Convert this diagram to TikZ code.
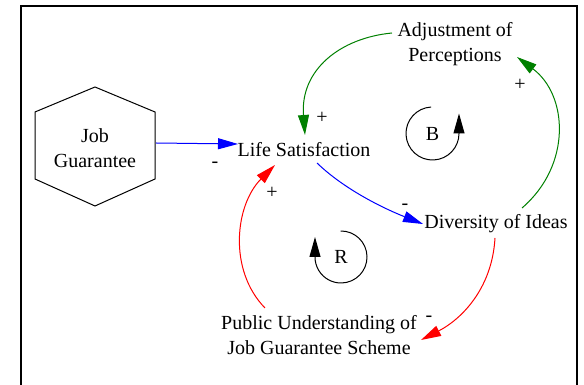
\documentclass[tikz,border=0pt]{standalone}
\usepackage{fontspec}
\setmainfont{Liberation Serif}
\usetikzlibrary{arrows.meta,calc}
\definecolor{lgreen}{RGB}{0,128,0}
\definecolor{lblue}{RGB}{0,0,255}
\definecolor{lred}{RGB}{255,0,0}
\begin{document}
\begin{tikzpicture}[x=1pt,y=1pt,
  every node/.style={font=\rmfamily\fontsize{20}{25.5}\selectfont, inner sep=0pt},
  var/.style={align=center},
  pol/.style={font=\rmfamily\fontsize{20}{20}\selectfont},
  link/.style={line width=1pt, -{Triangle[length=20pt,width=11pt]}},
  loopc/.style={line width=1pt, -{Triangle[length=20pt,width=11pt]}}]
\useasboundingbox (0,0) rectangle (584,385);
\draw[line width=1.7pt] (21,0) -- (21,379) -- (577,379) -- (577,0);
% variables
\node[var,minimum width=120pt,minimum height=119pt] (jg) at (95,237) {Job\\Guarantee};
\draw[line width=1pt] (jg.center) +(0,61) -- +(-60,36) -- +(-60,-31) -- +(0,-58) -- +(60,-31) -- +(60,36) -- cycle;
\node[var] (ls) at (304,235) {Life Satisfaction};
\node[var] (adj) at (455,341) {Adjustment of\\Perceptions};
\node[var] (div) at (496,161) {Diversity of Ideas};
\node[var] (pub) at (319,50) {Public Understanding of\\Job Guarantee Scheme};
% links
\draw[link,lblue] ($(jg.center)+(61,5)$) -- ($(ls.center)+(-66,6)$);
\draw[link,lgreen] ($(adj.center)+(-63,11)$) .. controls +(-52,-5) and +(-5,65) .. ($(ls.center)+(1,15)$);
\draw[link,lgreen] ($(div.center)+(26,16)$) .. controls +(50,43) and +(51,-38) .. ($(adj.center)+(62,-13)$);
\draw[link,lblue] ($(ls.center)+(13,-13)$) .. controls +(28,-27) and +(-38,15) .. ($(div.center)+(-73,0)$);
\draw[link,lred] ($(div.center)+(-1,-14)$) .. controls +(-3,-52) and +(39,20) .. ($(pub.center)+(102,-5)$);
\draw[link,lred] ($(pub.center)+(-54,27)$) .. controls +(-37,38) and +(-40,-40) .. ($(ls.center)+(-29,-15)$);
% polarities
\node[pol] (p1) at (215,220) {-};
\node[pol] (p2) at (322,267) {+};
\node[pol] (p3) at (520,300) {+};
\node[pol] (p4) at (405,178) {-};
\node[pol] (p5) at (429,66) {-};
\node[pol] (p6) at (272,192) {+};
% loops
\node (lb) at (432.5,251.5) {B};
\draw[loopc] (lb.center) ++(93:26.5) arc[start angle=93,end angle=360,radius=26.5] -- ++(0,20);
\node (lr) at (341,128) {R};
\draw[loopc] (lr.center) ++(91:26) arc[start angle=91,end angle=-180,radius=26] -- ++(0,20);
\end{tikzpicture}
\end{document}
